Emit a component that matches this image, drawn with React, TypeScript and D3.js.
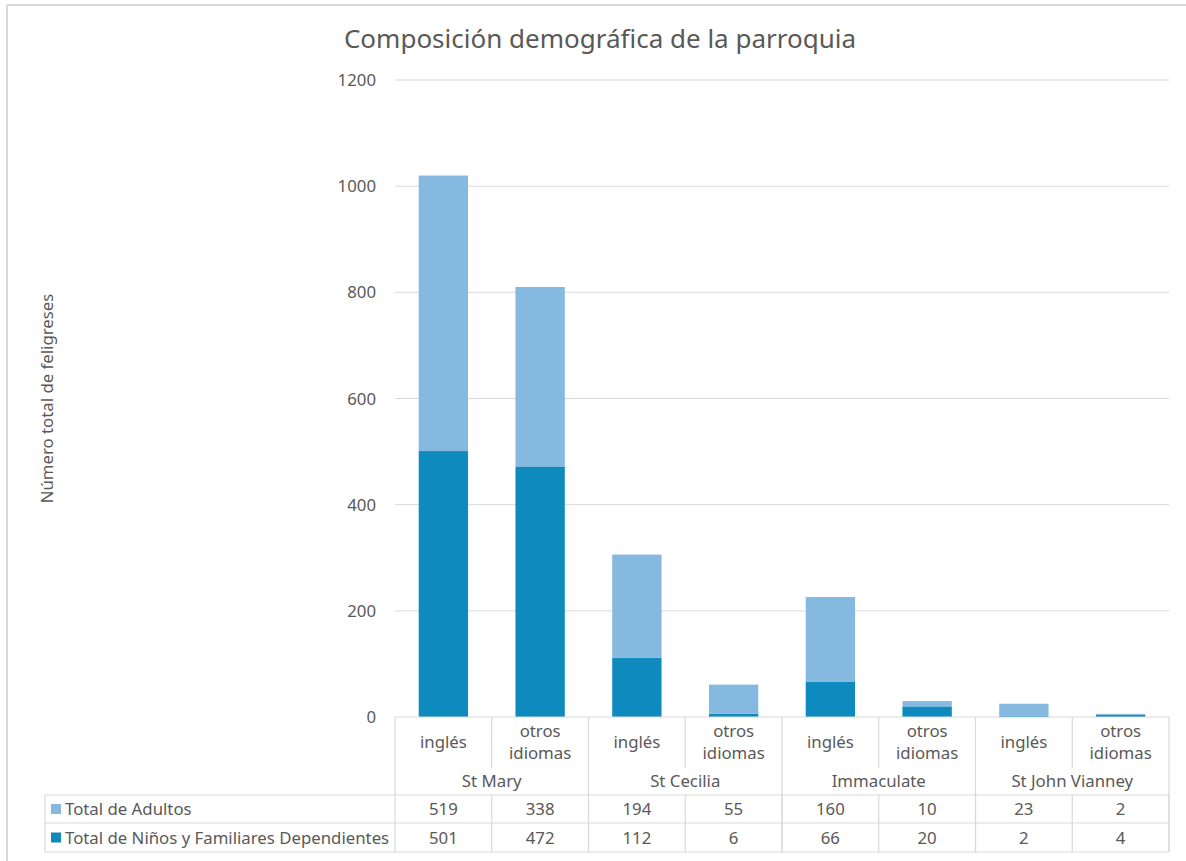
import * as d3 from 'd3'

const groups = ['St Mary', 'St Cecilia', 'Immaculate', 'St John Vianney']
const languages = ['inglés', 'otros idiomas']
const adults = [519, 338, 194, 55, 160, 10, 23, 2]
const children = [501, 472, 112, 6, 66, 20, 2, 4]
const seriesNames = ['Total de Adultos', 'Total de Niños y Familiares Dependientes']
const yTicks = [0, 200, 400, 600, 800, 1000, 1200]

const W = 1186
const H = 861
const FONT = '"Noto Sans", "Open Sans", sans-serif'
const TEXT = '#595959'
const GRID = '#D9D9D9'
const LIGHT = '#86B9E0'
const DARK = '#0E8ABE'
const FS = 16.8

const plot = { left: 395, right: 1169, top: 80, bottom: 717 }
const table = { left: 45, catBottom: 768, groupBottom: 795, row1: 823, row2: 852 }

const categories = groups.flatMap(g => languages.map(l => `${g}|${l}`))

const App = () => {
  const x = d3.scaleBand<string>()
    .domain(categories)
    .range([plot.left, plot.right])
    .paddingInner(0.49)
    .paddingOuter(0.245)

  const y = d3.scaleLinear().domain([0, 1200]).range([plot.bottom, plot.top])

  const stackData = categories.map((c, i) => ({ cat: c, children: children[i], adults: adults[i] }))
  const stacked = d3.stack<{ cat: string; children: number; adults: number }>()
    .keys(['children', 'adults'])(stackData)
  const colors: Record<string, string> = { children: DARK, adults: LIGHT }

  const step = x.step()
  const groupX = (gi: number) => plot.left + gi * step * 2
  const cellCenter = (i: number) => plot.left + step * (i + 0.5)

  return (
    <svg width={W} height={H} style={{ position: 'absolute', left: 0, top: 0, background: '#fff' }} fontFamily={FONT}>
      {/* outer chart border */}
      <line x1={7} x2={W} y1={5} y2={5} stroke={GRID} strokeWidth={2} />
      <line x1={7} x2={7} y1={5} y2={H} stroke={GRID} strokeWidth={2} />

      <text x={600} y={48} textAnchor="middle" fontSize={26} fill={TEXT}>
        Composición demográfica de la parroquia
      </text>

      {/* gridlines + y ticks */}
      {yTicks.map(t => (
        <g key={t}>
          {t > 0 && <line x1={plot.left} x2={plot.right} y1={y(t)} y2={y(t)} stroke={GRID} strokeWidth={1} />}
          <text x={376} y={y(t) + 6} textAnchor="end" fontSize={FS} fill={TEXT}>{t}</text>
        </g>
      ))}

      <text transform={`translate(53,${(plot.top + plot.bottom) / 2}) rotate(-90)`} textAnchor="middle" fontSize={FS} fill={TEXT}>
        Número total de feligreses
      </text>

      {/* bars */}
      {stacked.map(s => (
        <g key={s.key} fill={colors[s.key]}>
          {s.map(d => (
            <rect key={d.data.cat} x={x(d.data.cat)} width={x.bandwidth()} y={y(d[1])} height={y(d[0]) - y(d[1])} />
          ))}
        </g>
      ))}

      {/* table lines */}
      <g stroke={GRID} strokeWidth={1.2} fill="none">
        <line x1={plot.left} x2={plot.right} y1={plot.bottom} y2={plot.bottom} />
        <line x1={table.left} x2={plot.right} y1={table.groupBottom} y2={table.groupBottom} />
        <line x1={table.left} x2={plot.right} y1={table.row1} y2={table.row1} />
        <line x1={table.left} x2={plot.right} y1={table.row2} y2={table.row2} />
        <line x1={table.left} x2={table.left} y1={table.groupBottom} y2={table.row2} />
        {groups.map((g, gi) => (
          <line key={g} x1={groupX(gi)} x2={groupX(gi)} y1={plot.bottom} y2={table.row2} />
        ))}
        <line x1={plot.right} x2={plot.right} y1={plot.bottom} y2={table.row2} />
        {groups.map((g, gi) => (
          <line key={g + 'in'} x1={groupX(gi) + step} x2={groupX(gi) + step} y1={plot.bottom} y2={table.catBottom} />
        ))}
        {categories.map((c, i) => (
          <line key={c} x1={plot.left + step * (i + 1)} x2={plot.left + step * (i + 1)} y1={table.groupBottom} y2={table.row2} />
        ))}
      </g>

      {/* category labels */}
      {categories.map((c, i) => {
        const lang = c.split('|')[1]
        const cx = cellCenter(i)
        return lang === 'inglés' ? (
          <text key={c} x={cx} y={748} textAnchor="middle" fontSize={FS} fill={TEXT}>{lang}</text>
        ) : (
          <text key={c} x={cx} textAnchor="middle" fontSize={FS} fill={TEXT}>
            <tspan x={cx} y={737}>otros</tspan>
            <tspan x={cx} y={759}>idiomas</tspan>
          </text>
        )
      })}

      {groups.map((g, gi) => (
        <text key={g} x={groupX(gi) + step} y={787} textAnchor="middle" fontSize={FS} fill={TEXT}>{g}</text>
      ))}

      {/* data rows */}
      {[adults, children].map((vals, ri) => {
        const top = ri === 0 ? table.groupBottom : table.row1
        const bottom = ri === 0 ? table.row1 : table.row2
        const mid = (top + bottom) / 2
        return (
          <g key={ri}>
            <rect x={51} y={mid - 5} width={10} height={10} fill={ri === 0 ? LIGHT : DARK} />
            <text x={65} y={mid + 6} fontSize={FS} fill={TEXT}>{seriesNames[ri]}</text>
            {vals.map((v, i) => (
              <text key={i} x={cellCenter(i)} y={mid + 6} textAnchor="middle" fontSize={FS} fill={TEXT}>{v}</text>
            ))}
          </g>
        )
      })}
    </svg>
  )
}

export default App
